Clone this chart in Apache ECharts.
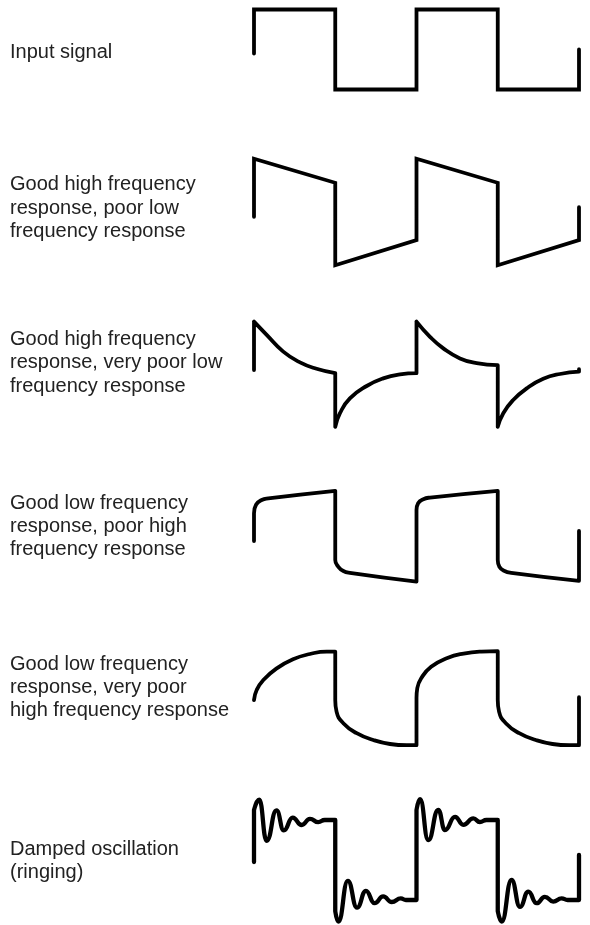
<!DOCTYPE html>
<html>
<head>
<meta charset="utf-8">
<script src="https://cdn.jsdelivr.net/npm/echarts@6/dist/echarts.min.js"></script>
<style>
  html, body { margin: 0; padding: 0; background: #fff; }
  #chart { width: 590px; height: 925px; }
</style>
</head>
<body>
<div id="chart"></div>
<script>
// x: time, one half period = 100 ; y: amplitude, input square wave = ±1
// '-' rows break the stroke where the picture has a sharp corner
const B = ['-', '-']

const labels = [
  'Input signal',
  'Good high frequency\nresponse, poor low\nfrequency response',
  'Good high frequency\nresponse, very poor low\nfrequency response',
  'Good low frequency\nresponse, poor high\nfrequency response',
  'Good low frequency\nresponse, very poor\nhigh frequency response',
  'Damped oscillation\n(ringing)',
]

const inputSignal = [
  [0, -0.1], [0, 1], [100, 1], [100, -1], [200, -1], [200, 1],
  [300, 1], [300, -1], [400, -1], [400, 0],
]

const poorLow = [
  [0, -0.12], [0, 1.33], [100, 0.73], [100, -1.33], [200, -0.7], [200, 1.33],
  [300, 0.73], [300, -1.33], [400, -0.7], [400, 0.12],
]

const veryPoorLow = [
  [0, 0.1], [0, 1.31], B,
  [0, 1.31], [15.6, 0.98], [36, 0.56], [56.6, 0.29], [77, 0.13], [100, 0.02], B,
  [100, 0.02], [100, -1.32], B,
  [100, -1.32], [105.8, -0.98], [118, -0.61], [138.7, -0.3], [159, -0.11], [179.7, -0.01], [200, 0.02], B,
  [200, 0.02], [200, 1.31], B,
  [200, 1.31], [216.6, 0.93], [233, 0.64], [253.5, 0.39], [274, 0.27], [300, 0.22], B,
  [300, 0.22], [300, -1.32], B,
  [300, -1.32], [306.8, -0.98], [319, -0.65], [335.6, -0.36], [356, -0.12], [376.6, 0], [400, 0.06], B,
  [400, 0.06], [400, 0.12],
]

const poorHigh = [
  [0, -0.125], [0, 0.57], [2.5, 0.78], [9.5, 0.9], [17.6, 0.94], [100, 1.13], B,
  [100, 1.13], [100, -0.6], [103.8, -0.77], [110, -0.875], [118, -0.92], [200, -1.14], B,
  [200, -1.14], [200, 0.65], [202, 0.82], [208.4, 0.92], [216.6, 0.96], [300, 1.13], B,
  [300, 1.13], [300, -0.6], [302, -0.77], [308.4, -0.875], [316.6, -0.92], [400, -1.12], B,
  [400, -1.12], [400, 0.125],
]

const veryPoorHigh = [
  [0, -0.05], [3.3, 0.2], [11.5, 0.45], [27.9, 0.74], [48, 0.97], [68.9, 1.1], [89.5, 1.16], [100, 1.16], B,
  [100, 1.16], [100, -0.05], [101.6, -0.34], [109.9, -0.63], [126.4, -0.88], [146.8, -1.05], [167.4, -1.15], [187.9, -1.18], [200, -1.18], B,
  [200, -1.18], [200, 0], [201, 0.25], [206, 0.5], [218, 0.78], [238, 1.0], [258, 1.11], [280, 1.16], [300, 1.17], B,
  [300, 1.17], [300, -0.05], [301.6, -0.34], [309.9, -0.63], [326.4, -0.88], [346.8, -1.05], [367.4, -1.15], [387.9, -1.18], [400, -1.18], B,
  [400, -1.18], [400, 0.02],
]

const ringing = [
  [0, -0.05], [0, 1.25], B,
  [0, 1.25], [6.4, 1.51], [15.6, 0.48], [27.7, 1.24], [36.7, 0.74], [47.6, 1.06], [58.7, 0.875], [68.9, 1.03], [79.1, 0.945], [87, 1.0], [100, 1.0], B,
  [100, 1.0], [100, -1.28], B,
  [100, -1.28], [103.8, -1.54], [115.5, -0.52], [126.8, -1.19], [137.8, -0.77], [148.3, -1.08], [159, -0.91], [169.5, -1.05], [180.7, -0.96], [187, -1.0], [200, -1.0], B,
  [200, -1.0], [200, 1.25], B,
  [200, 1.25], [204.3, 1.52], [214.5, 0.5], [226.8, 1.25], [235, 0.75], [247.4, 1.08], [257.6, 0.88], [270, 1.04], [278, 0.95], [286, 1.0], [300, 1.0], B,
  [300, 1.0], [300, -1.28], B,
  [300, -1.28], [304.8, -1.54], [317, -0.5], [327.4, -1.17], [337.6, -0.79], [347.9, -1.08], [358, -0.92], [368.3, -1.04], [378.6, -0.96], [386, -1.0], [400, -1.0], B,
  [400, -1.0], [400, 0.125],
]

const waves = [inputSignal, poorLow, veryPoorLow, poorHigh, veryPoorHigh, ringing]

// layout / style per panel
const centers = [49.5, 212, 374, 536, 698, 860]
const labelTops = [40.7, 173.1, 328, 491.5, 652.5, 838]
const smoothing = [false, false, true, true, true, true]
const monotone = [null, null, null, null, null, 'x']
const widths = [3.8, 3.8, 3.8, 3.8, 3.8, 4.3]

const chart = echarts.init(document.getElementById('chart'), null, { renderer: 'canvas' })

const option = {
  animation: false,
  backgroundColor: '#fff',
  title: labels.map((t, i) => ({
    text: t,
    left: 10,
    top: labelTops[i],
    padding: 0,
    textStyle: {
      fontFamily: 'Liberation Sans, Arial, sans-serif',
      fontSize: 20,
      fontWeight: 'normal',
      color: '#222',
      lineHeight: 23.3,
    },
  })),
  grid: centers.map(c => ({ left: 254, width: 325, top: c - 40, height: 80 })),
  xAxis: waves.map((w, i) => ({ type: 'value', gridIndex: i, min: 0, max: 400, show: false })),
  yAxis: waves.map((w, i) => ({ type: 'value', gridIndex: i, min: -1, max: 1, show: false })),
  series: waves.map((w, i) => ({
    type: 'line',
    xAxisIndex: i,
    yAxisIndex: i,
    data: w,
    symbol: 'none',
    smooth: smoothing[i],
    smoothMonotone: monotone[i],
    connectNulls: false,
    clip: false,
    silent: true,
    lineStyle: {
      color: '#000',
      width: widths[i],
      cap: 'round',
      join: smoothing[i] ? 'round' : 'miter',
    },
  })),
}

chart.setOption(option)
</script>
</body>
</html>
